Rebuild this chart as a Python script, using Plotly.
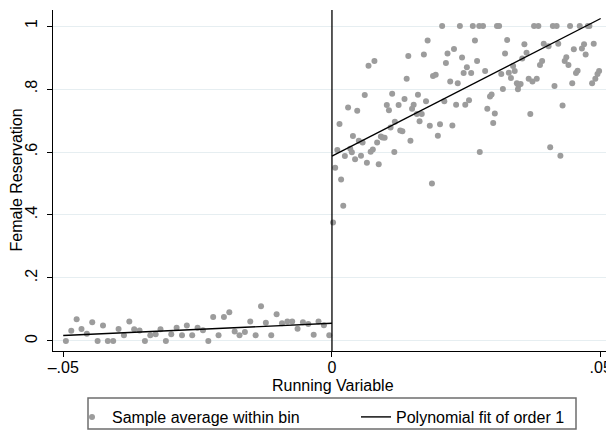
import plotly.graph_objects as go

# ---- data ----
left_x = [-0.0495, -0.0485, -0.0475, -0.0466, -0.0456, -0.0446, -0.0436, -0.0426, -0.0417, -0.0407,
          -0.0397, -0.0387, -0.0377, -0.0368, -0.0358, -0.0348, -0.0338, -0.0328, -0.0319, -0.0309,
          -0.0299, -0.0289, -0.0279, -0.0270, -0.0260, -0.0250, -0.0240, -0.0230, -0.0221, -0.0211,
          -0.0201, -0.0191, -0.0181, -0.0172, -0.0162, -0.0152, -0.0142, -0.0132, -0.0123, -0.0113,
          -0.0103, -0.0093, -0.0083, -0.0074, -0.0064, -0.0054, -0.0044, -0.0034, -0.0025, -0.0015,
          -0.0005]
left_y = [0.000, 0.032, 0.069, 0.038, 0.023, 0.059, 0.000, 0.049, 0.000, 0.000,
          0.038, 0.018, 0.062, 0.037, 0.033, 0.000, 0.018, 0.021, 0.037, 0.000,
          0.021, 0.042, 0.018, 0.049, 0.018, 0.042, 0.034, 0.000, 0.076, 0.018,
          0.076, 0.091, 0.030, 0.018, 0.028, 0.062, 0.018, 0.110, 0.058, 0.018,
          0.085, 0.056, 0.062, 0.062, 0.039, 0.059, 0.054, 0.020, 0.062, 0.050,
          0.018]

right_x = [0.0002, 0.0006, 0.0010, 0.0014, 0.0017, 0.0021, 0.0024, 0.0034, 0.0037, 0.0039,
           0.0043, 0.0050, 0.0054, 0.0057, 0.0065, 0.0072, 0.0076, 0.0084, 0.0087, 0.0091,
           0.0094, 0.0098, 0.0109, 0.0117, 0.0116, 0.0127, 0.0131, 0.0146, 0.0163, 0.0182,
           0.0186, 0.0197, 0.0201, 0.0224, 0.0275, 0.0300, 0.0406, 0.0425,
           0.0030, 0.0047, 0.0061, 0.0068, 0.0079, 0.0102, 0.0106, 0.0112, 0.0124, 0.0135,
           0.0139, 0.0142, 0.0149, 0.0152, 0.0160, 0.0158, 0.0167, 0.0171, 0.0175, 0.0178,
           0.0188, 0.0193, 0.0205, 0.0209, 0.0212, 0.0215, 0.0220, 0.0227, 0.0231, 0.0234,
           0.0238, 0.0242, 0.0245, 0.0248, 0.0251, 0.0255, 0.0259, 0.0262, 0.0266, 0.0270,
           0.0274, 0.0281, 0.0285, 0.0307, 0.0311, 0.0326, 0.0322, 0.0315, 0.0318, 0.0289,
           0.0294, 0.0297, 0.0303, 0.0329, 0.0333, 0.0337, 0.0340, 0.0344, 0.0347, 0.0351,
           0.0346, 0.0354, 0.0358, 0.0362, 0.0366, 0.0369, 0.0373, 0.0376, 0.0384, 0.0381,
           0.0387, 0.0391, 0.0394, 0.0403, 0.0411, 0.0418, 0.0414, 0.0421, 0.0429, 0.0433,
           0.0436, 0.0440, 0.0443, 0.0447, 0.0450, 0.0454, 0.0457, 0.0461, 0.0465, 0.0469,
           0.0472, 0.0476, 0.0479, 0.0484, 0.0487, 0.0490, 0.0494, 0.0497]
right_y = [0.376, 0.550, 0.606, 0.689, 0.513, 0.429, 0.587, 0.610, 0.599, 0.651,
           0.577, 0.636, 0.588, 0.630, 0.566, 0.601, 0.608, 0.630, 0.561, 0.649,
           0.646, 0.645, 0.678, 0.696, 0.600, 0.668, 0.666, 0.636, 0.698, 0.683,
           0.500, 0.652, 0.688, 0.684, 0.600, 0.692, 0.615, 0.588,
           0.741, 0.731, 0.781, 0.874, 0.889, 0.749, 0.733, 0.785, 0.749, 0.768,
           0.833, 0.905, 0.737, 0.750, 0.782, 0.721, 0.721, 0.910, 0.761, 0.954,
           0.841, 0.845, 1.000, 0.761, 0.883, 0.913, 0.824, 0.927, 0.750, 0.818,
           1.000, 0.900, 0.851, 0.750, 0.869, 0.764, 0.851, 1.000, 0.954, 0.889,
           1.000, 1.000, 0.857, 1.000, 1.000, 0.956, 0.913, 0.848, 0.800, 0.737,
           0.776, 0.783, 0.722, 0.852, 0.835, 0.873, 0.857, 0.818, 0.811, 0.816,
           0.799, 0.897, 0.942, 0.915, 0.833, 0.721, 0.824, 1.000, 1.000, 0.833,
           0.876, 0.889, 0.944, 0.936, 1.000, 1.000, 0.810, 0.944, 0.748, 0.889,
           0.901, 0.876, 1.000, 0.818, 0.926, 0.851, 0.858, 1.000, 0.929, 0.942,
           0.910, 1.000, 1.000, 0.818, 0.944, 0.833, 0.848, 0.857]

fit_left_x = [-0.05, 0.0]
fit_left_y = [0.017, 0.056]
fit_right_x = [0.0, 0.05]
fit_right_y = [0.587, 1.024]

cutoff = 0.0

x_ticks = [-0.05, 0.0, 0.05]
x_ticktext = ["\u2013.05", "0", ".05"]
y_ticks = [0, 0.2, 0.4, 0.6, 0.8, 1.0]
y_ticktext = ["0", ".2", ".4", ".6", ".8", "1"]

# ---- layout geometry (figure pixels; the page body adds an 8px offset) ----
FONT = "Liberation Sans, Arial, Helvetica, sans-serif"
FS = 16
dot_color = "#9c9c9c"
W, H = 606, 424
ML, MR, MT, MB = 45, 2, 2, 81
PW = W - ML - MR          # plot width in px
PH = H - MT - MB          # plot height in px


def px_x(p):   # figure px -> paper x
    return (p - ML) / PW


def px_y(p):   # figure px (from top) -> paper y
    return (H - MB - p) / PH


fig = go.Figure()
fig.add_trace(go.Scatter(
    x=left_x + right_x, y=left_y + right_y, mode="markers",
    marker=dict(color=dot_color, size=6, line=dict(width=0)),
    name="Sample average within bin", legend="legend"))
fig.add_trace(go.Scatter(
    x=fit_left_x, y=fit_left_y, mode="lines",
    line=dict(color="black", width=1.4),
    name="Polynomial fit of order 1", legendgroup="fit", legend="legend2"))
fig.add_trace(go.Scatter(
    x=fit_right_x, y=fit_right_y, mode="lines",
    line=dict(color="black", width=1.4),
    name="Polynomial fit of order 1", legendgroup="fit", showlegend=False, legend="legend2"))

# cutoff line
fig.add_shape(type="line", xref="x", yref="paper", x0=cutoff, x1=cutoff, y0=0, y1=1,
              line=dict(color="black", width=1.3), layer="above")
# legend frame (spans both legend entries)
fig.add_shape(type="rect", xref="paper", yref="paper",
              x0=px_x(80), x1=px_x(568), y0=px_y(421), y1=px_y(390),
              line=dict(color="#6e6e6e", width=1.5), fillcolor="rgba(0,0,0,0)")

leg_common = dict(
    orientation="h", xref="container", yref="container",
    xanchor="left", yanchor="middle", y=1 - 409 / H,
    borderwidth=0, bgcolor="rgba(0,0,0,0)",
    font=dict(family=FONT, size=FS, color="black"),
)

fig.update_layout(
    width=W, height=H,
    margin=dict(l=ML, r=MR, t=MT, b=MB, autoexpand=False),
    paper_bgcolor="white", plot_bgcolor="white",
    font=dict(family=FONT, size=FS, color="black"),
    showlegend=True,
    legend=dict(x=64 / W, **leg_common),
    legend2=dict(x=348 / W, **leg_common),
    xaxis=dict(
        range=[-0.0519, 0.0521],
        automargin=False,
        tickvals=x_ticks, ticktext=x_ticktext,
        ticklabelstandoff=-3,
        showgrid=False, zeroline=False,
        showline=True, linecolor="black", linewidth=1,
        ticks="outside", ticklen=5, tickcolor="black", tickwidth=1,
        tickfont=dict(size=FS),
    ),
    yaxis=dict(
        range=[-0.032, 1.051],
        automargin=False,
        tickvals=y_ticks, ticktext=y_ticktext,
        tickangle=-90,
        ticklabelstandoff=4,
        showgrid=True, gridcolor="#e6eef1", gridwidth=1,
        zeroline=False,
        showline=True, linecolor="black", linewidth=1,
        ticks="outside", ticklen=5, tickcolor="black", tickwidth=1,
        tickfont=dict(size=FS),
    ),
    annotations=[
        dict(text="Running Variable", xref="paper", yref="paper", x=0.5, y=0,
             xanchor="center", yanchor="middle", yshift=-34, showarrow=False,
             font=dict(family=FONT, size=FS, color="black")),
        dict(text="Female Reservation", xref="paper", yref="paper", x=0, y=0.5,
             xanchor="center", yanchor="middle", xshift=-37, textangle=-90,
             showarrow=False, font=dict(family=FONT, size=FS, color="black")),
    ],
)

fig.write_html("out.html")
